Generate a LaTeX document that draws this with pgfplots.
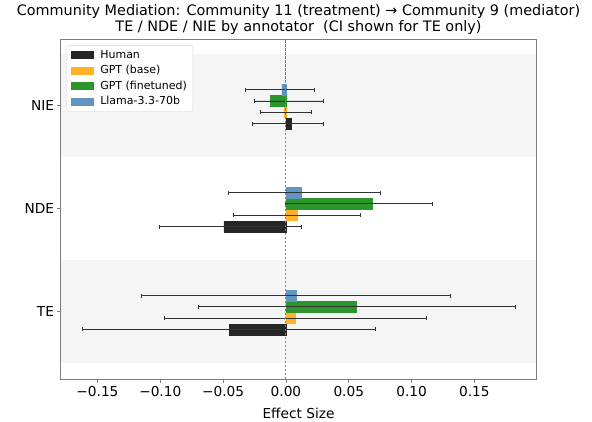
\documentclass[border=0pt]{standalone}
\usepackage{pgfplots}
\pgfplotsset{compat=1.18}
\usepackage{fontspec}
\setmainfont{DejaVu Sans}
\definecolor{cHuman}{RGB}{38,38,38}
\definecolor{cBase}{RGB}{255,178,38}
\definecolor{cFT}{RGB}{44,150,44}
\definecolor{cLlama}{RGB}{98,149,191}
\definecolor{cBand}{RGB}{245,245,245}
\definecolor{cFrame}{RGB}{125,125,125}
\definecolor{cErr}{RGB}{50,50,50}
\begin{document}
\begin{tikzpicture}
\begin{axis}[
  at={(0,0)}, anchor=south west,
  scale only axis, width=475pt, height=340pt,
  xmin=-0.179, xmax=0.199, ymin=-0.656, ymax=2.647,
  xtick={-0.15,-0.1,-0.05,0,0.05,0.1,0.15},
  xticklabels={−0.15,−0.10,−0.05,0.00,0.05,0.10,0.15},
  ytick={0,1,2}, yticklabels={TE,NDE,NIE},
  tick label style={font=\fontsize{13.7}{16}\selectfont, black},
  xlabel={Effect Size},
  xlabel style={font=\fontsize{13.7}{16}\selectfont, yshift=-5pt},
  title={Community Mediation: Community 11 (treatment) → Community 9 (mediator)\\TE / NDE / NIE by annotator\ \ (CI shown for TE only)},
  title style={align=center, font=\fontsize{14.4}{16.3}\selectfont, at={(0.5,1)}, anchor=south, yshift=-5pt},
  tick align=outside, xtick pos=bottom, ytick pos=left,
  major tick length=3.5pt,
  tick style={cFrame, line width=0.8pt},
  axis line style={cFrame, line width=1pt},
  legend cell align=left,
  legend style={at={(0.012,0.982)}, anchor=north west,
    font=\fontsize{11}{12.5}\selectfont, draw=black!15, rounded corners=2pt,
    row sep=1.6pt, inner xsep=4pt, inner ysep=3pt,
    /tikz/every odd column/.append style={column sep=5pt}},
  error bars/error bar style={cErr, line width=0.9pt},
  error bars/error mark options={cErr, line width=0.9pt, mark size=2pt, rotate=90},
]
% background bands
\addplot[fill=cBand, draw=none, forget plot] coordinates {(-0.179,1.5) (0.199,1.5) (0.199,2.5) (-0.179,2.5)};
\addplot[fill=cBand, draw=none, forget plot] coordinates {(-0.179,-0.5) (0.199,-0.5) (0.199,0.5) (-0.179,0.5)};

% Human
\addplot[xbar, bar width=0.105, bar shift=0, fill=cHuman, draw=cHuman,
  legend image code/.code={\fill[cHuman, sharp corners] (0pt,-3.5pt) rectangle (22pt,3.5pt);},
  error bars/.cd, x dir=both, x explicit]
  coordinates {
  (-0.0450,-0.175) += (0.1163,0) -= (0.1170,0)
  (-0.0493,0.825)  += (0.0613,0) -= (0.0511,0)
  (0.0040,1.825)   += (0.0258,0) -= (0.0309,0)
  };
\addlegendentry{Human}
% GPT base
\addplot[xbar, bar width=0.105, bar shift=0, fill=cBase, draw=cBase,
  legend image code/.code={\fill[cBase, sharp corners] (0pt,-3.5pt) rectangle (22pt,3.5pt);},
  error bars/.cd, x dir=both, x explicit]
  coordinates {
  (0.0075,-0.065)  += (0.1046,0) -= (0.1044,0)
  (0.0093,0.935)   += (0.0500,0) -= (0.0513,0)
  (-0.0010,1.935)  += (0.0212,0) -= (0.0195,0)
  };
\addlegendentry{GPT (base)}
% GPT finetuned
\addplot[xbar, bar width=0.105, bar shift=0, fill=cFT, draw=cFT,
  legend image code/.code={\fill[cFT, sharp corners] (0pt,-3.5pt) rectangle (22pt,3.5pt);},
  error bars/.cd, x dir=both, x explicit]
  coordinates {
  (0.0562,0.045)   += (0.1262,0) -= (0.1259,0)
  (0.0689,1.045)   += (0.0475,0) -= (0.0689,0)
  (-0.0122,2.045)  += (0.0420,0) -= (0.0131,0)
  };
\addlegendentry{GPT (finetuned)}
% Llama
\addplot[xbar, bar width=0.105, bar shift=0, fill=cLlama, draw=cLlama,
  legend image code/.code={\fill[cLlama, sharp corners] (0pt,-3.5pt) rectangle (22pt,3.5pt);},
  error bars/.cd, x dir=both, x explicit]
  coordinates {
  (0.0083,0.155)   += (0.1229,0) -= (0.1231,0)
  (0.0120,1.155)   += (0.0633,0) -= (0.0578,0)
  (-0.0032,2.155)  += (0.0261,0) -= (0.0290,0)
  };
\addlegendentry{Llama-3.3-70b}

% zero line
\addplot[cFrame, line width=0.9pt, dash pattern=on 2.5pt off 1.5pt, forget plot]
  coordinates {(0,-0.656) (0,2.647)};
\end{axis}
\pgfresetboundingbox
\path[use as bounding box] (-61pt,-42pt) rectangle (531pt,379pt);
\end{tikzpicture}
\end{document}
